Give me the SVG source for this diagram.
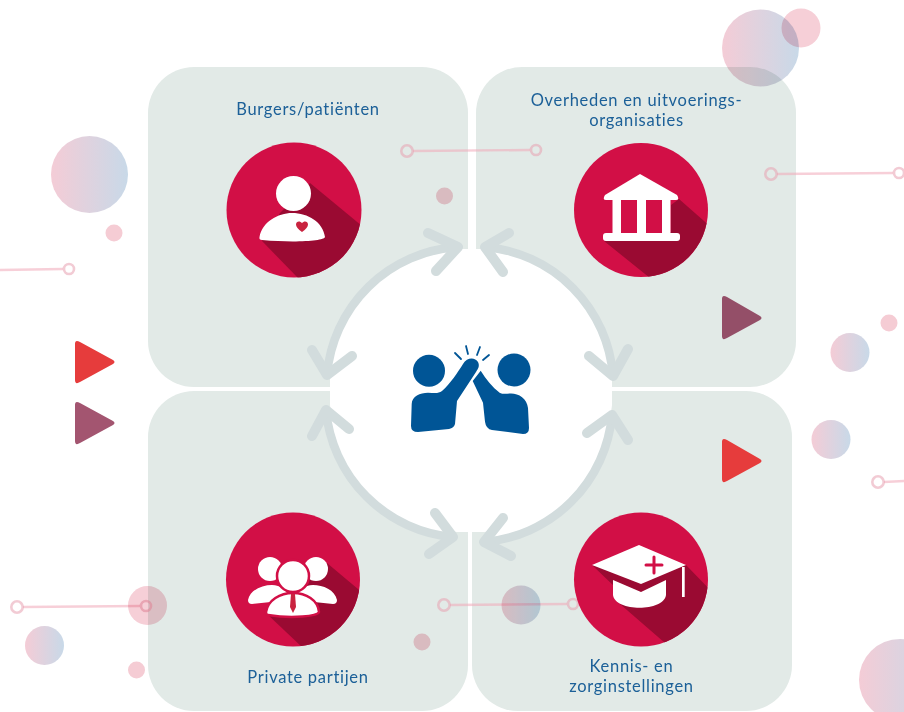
<svg xmlns="http://www.w3.org/2000/svg" width="904" height="712" viewBox="0 0 904 712">
<style>
.panel{fill:#e2eae7}
.arc{fill:none;stroke:#d2dcdd;stroke-width:8.5;stroke-linecap:round;stroke-linejoin:round}
.barb{fill:none;stroke:#d2dcdd;stroke-width:10;stroke-linecap:round;stroke-linejoin:round}
.lbl{font-family:"Lato","Noto Sans",sans-serif;font-size:16.5px;fill:#1c6098;text-anchor:middle;letter-spacing:.7px}
.disc{fill:#d20f46}
.sh{fill:#9a0a32}
.w{fill:#fff}
.line{fill:none;stroke:#f0a8b8;stroke-width:2.400;opacity:.55}
.ring{fill:none;stroke:#e8a0b0;stroke-width:2.600;opacity:.55}
.dot{fill:#f5ccd4;mix-blend-mode:multiply}
.big{fill:url(#g);mix-blend-mode:multiply}
.big2{fill:#f6cfd7;mix-blend-mode:multiply}
</style>
<defs>
<linearGradient id="g" x1="0" x2="1" y1="0" y2="0"><stop offset="0" stop-color="#f4ccd6"/><stop offset="1" stop-color="#c8d9e8"/></linearGradient>
<clipPath id="c1"><circle cx="294" cy="210" r="67.5"/></clipPath>
<clipPath id="c2"><circle cx="641" cy="210" r="67"/></clipPath>
<clipPath id="c3"><circle cx="293" cy="579.500" r="67"/></clipPath>
<clipPath id="c4"><circle cx="641" cy="579.500" r="67"/></clipPath>
</defs>
<g id="panels">
<rect class="panel" x="148" y="67" width="320" height="320" rx="46"/>
<rect class="panel" x="476" y="67" width="320" height="320" rx="46"/>
<rect class="panel" x="148" y="391" width="320" height="320" rx="46"/>
<rect class="panel" x="472" y="391" width="320" height="320" rx="46"/>
<path fill="#fff" d="M459 249L482 249A140 140 0 0 1 612 378L612 405A140 140 0 0 1 484 532L457 532A140 140 0 0 1 330 405L330 378A140 140 0 0 1 459 249Z"/>
<path fill="#fff" d="M457 247A140 140 0 0 0 327 375ZM485 247A140 140 0 0 1 613 376ZM326 410A140 140 0 0 0 453 537ZM612 415A140 140 0 0 1 484 542Z"/>
</g>
<g id="decor">
<path class="line" d="M413 151L530 150M777 174L893 173M0 270L63 269M884 482L904 481M23 607L140 606M450 605L567 604"/>
<circle class="ring" cx="407" cy="151" r="5.700"/><circle class="ring" cx="536" cy="150" r="5"/>
<circle class="ring" cx="771" cy="174" r="5.700"/><circle class="ring" cx="899" cy="173" r="5"/>
<circle class="ring" cx="69" cy="269" r="5"/><circle class="ring" cx="878" cy="482" r="5.700"/>
<circle class="ring" cx="17" cy="607" r="5.700"/><circle class="ring" cx="146" cy="606" r="5"/>
<circle class="ring" cx="444" cy="605" r="5.700"/><circle class="ring" cx="573" cy="604" r="5"/>
<circle class="big" cx="89.500" cy="174.500" r="38.500"/>
<circle class="big" cx="760.500" cy="48" r="38.500"/>
<circle class="big" cx="850" cy="352.500" r="19.500"/>
<circle class="big" cx="831" cy="439.500" r="19.500"/>
<circle class="big" cx="44.500" cy="645.500" r="19.500"/>
<circle class="big" cx="521" cy="605" r="19.500"/>
<circle class="big2" cx="147.500" cy="605.500" r="19.500"/>
<circle class="big2" cx="801" cy="28" r="19.500"/>
<circle class="big" cx="900" cy="680" r="41"/>
<circle class="dot" cx="114" cy="233" r="8.500"/>
<circle class="dot" cx="444.500" cy="196" r="8.500"/>
<circle class="dot" cx="889" cy="323" r="8.500"/>
<circle class="dot" cx="136.500" cy="670" r="8.500"/>
<circle class="dot" cx="422" cy="642" r="8.500"/>
<path d="M75 344Q75 339 80 342L113 360Q116 362 113 364L80 382Q75 385 75 380Z" fill="#e63c3c"/>
<path d="M75 405Q75 400 80 403L113 421Q116 423 113 425L80 443Q75 446 75 441Z" fill="#a35570"/>
<path d="M722 299Q722 294 727 297L760 316Q763 318 760 320L727 338Q722 341 722 336Z" fill="#944f68"/>
<path d="M722 442Q722 437 727 440L760 459Q763 461 760 463L727 481Q722 484 722 479Z" fill="#e63c3c"/>
</g>
<g id="connectors">
<path class="arc" d="M457 247A140 140 0 0 0 327 375"/><path class="barb" d="M428 233L458 247L436 271M312 350L327 375L352 356"/>
<path class="arc" d="M485 247A140 140 0 0 1 613 376"/><path class="barb" d="M509 233L485 247L503 272M628 349L613 376L589 356"/>
<path class="arc" d="M326 410A140 140 0 0 0 453 537"/><path class="barb" d="M312 436L326 410L349 429M435 513L453 537L429 554"/>
<path class="arc" d="M612 415A140 140 0 0 1 484 542"/><path class="barb" d="M628 440L612 415L587 433M503 518L484 542L511 556"/>
</g>
<g id="node-burgers">
<text class="lbl" x="308" y="115">Burgers/patiënten</text>
<circle class="disc" cx="294" cy="210" r="67.500"/>
<path class="sh" clip-path="url(#c1)" d="M310 183L362 226L370 290L298 278L262 241L280 213Z"/>
<circle class="w" cx="293.500" cy="193.500" r="17.500"/>
<path class="w" d="M259.500 237C262 222 278 213 292 213C308 213 323 222 325 237C324 241 295 243 262 240C260 240 259 239 259.500 237Z"/>
<path d="M302 232C298 229 296 227 296 224.500C296 221 300 220.500 302 223C304 220.500 308 221 308 224.500C308 227 306 229 302 232Z" fill="#c9233f"/>
</g>
<g id="node-overheden">
<text class="lbl"><tspan x="636.500" y="106">Overheden en uitvoerings-</tspan><tspan x="636.500" y="125.500">organisaties</tspan></text>
<circle class="disc" cx="641" cy="210" r="67"/>
<path class="sh" clip-path="url(#c2)" d="M671 205L679 199L720 235L720 290L650 278L604 241L671 232Z"/>
<path class="w" d="M640 174L677 195Q680 200 676 200L606 200Q602 200 605 195Z"/>
<rect class="w" x="612.500" y="200" width="8.500" height="33"/><rect class="w" x="637" y="200" width="9" height="33"/><rect class="w" x="662" y="200" width="8.500" height="33"/>
<rect class="w" x="603" y="233" width="77" height="8" rx="3"/>
</g>
<g id="node-private">
<circle class="disc" cx="293" cy="579.500" r="67"/>
<path class="sh" clip-path="url(#c3)" d="M327 563L365 595L365 660L303 648L266 613Z"/>
<circle class="w" cx="270" cy="569" r="12"/><circle class="w" cx="316" cy="569" r="12"/>
<path class="w" d="M248 600C250 590 262 585 272 585C280 585 288 590 290 600L252 604Q248 604 248 600ZM337 600C335 590 323 585 313 585C305 585 297 590 295 600L333 604Q337 604 337 600Z"/>
<circle cx="293" cy="576" r="16" fill="#fff" stroke="#d20f46" stroke-width="2.500"/>
<path class="w" stroke="#d20f46" stroke-width="2.500" d="M266 612C268 600 280 593 293 593C306 593 318 600 319 612C318 616 293 619 268 615Q266 615 266 612Z"/>
<path d="M291 594L295 594L296 607L293 613L290 607Z" fill="#c9233f"/>
<text class="lbl" x="308" y="683">Private partijen</text>
</g>
<g id="node-kennis">
<circle class="disc" cx="641" cy="579.500" r="67"/>
<path class="sh" clip-path="url(#c4)" d="M592 565L615 587L620 604L665 643L720 620L720 600L686 565Z"/>
<path class="w" d="M613 580L613 595C615 612 664 612 666 595L666 580L641 592Z"/>
<path class="w" d="M639 545L592 565L641 584L686 565Z"/>
<rect x="682" y="567" width="2.700" height="30" fill="#fff"/>
<path d="M654 557V573M646 565H662" stroke="#d20f46" stroke-width="3" stroke-linecap="round" fill="none"/>
<text class="lbl"><tspan x="631.500" y="672">Kennis- en</tspan><tspan x="631.500" y="691.500">zorginstellingen</tspan></text>
</g>
<g id="node-center" fill="#005596">
<circle cx="429" cy="370.700" r="16"/><circle cx="514" cy="370" r="16.500"/>
<path d="M411 426L411.700 404C412 396 420 392.700 428 392.700C434 392.700 438 394 442 391C450 384 458 372 463 364C467 357 475 357 478 362C480 366 478 369 476 372L457 401L455 424Q454 428 449 429L418 432Q411 432 411 426Z"/>
<path d="M480.700 370.700L472.700 381L483 402.700L485 421.700Q486 429 492 430L523 434Q529 434 529 428L528 408C527 398 518 393 510 393.500C505 394 502 394 500 393C492 387 486 379 480.700 370.700Z"/>
<path d="M455 353L461 359M466 346L468 354M480 347L477 355M489 355L483 360" fill="none" stroke="#005596" stroke-width="1.800" stroke-linecap="round"/>
</g>
</svg>
